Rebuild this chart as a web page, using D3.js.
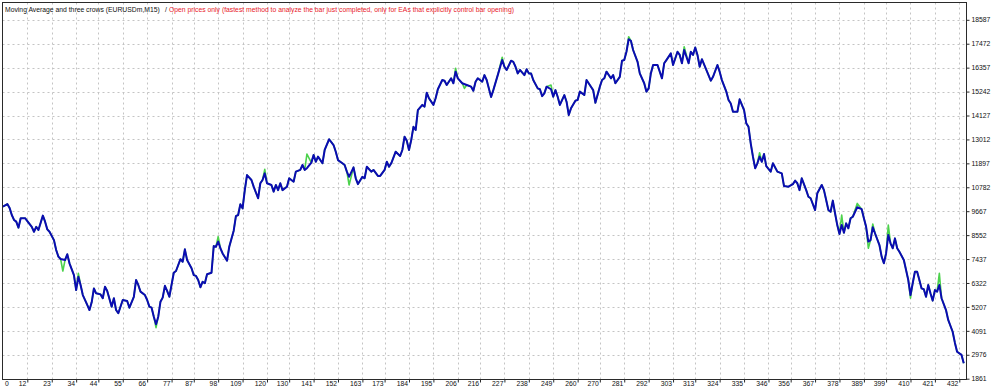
<!DOCTYPE html>
<html>
<head>
<meta charset="utf-8">
<script src="https://cdn.jsdelivr.net/npm/d3@7"></script>
<style>
  html, body { margin: 0; padding: 0; background: #ffffff; }
  svg { display: block; }
  text { font-family: "Liberation Sans", Arial, sans-serif; }
</style>
</head>
<body>
<svg id="chart" width="1000" height="392"></svg>
<script>
// ---- data ----
const titleMain = "Moving Average and three crows (EURUSDm,M15)";
const titleSep = "/";
const titleMode = "Open prices only (fastest method to analyze the bar just completed, only for EAs that explicitly control bar opening)";

const yTicks = [1861, 2976, 4091, 5207, 6322, 7437, 8552, 9667, 10782, 11897, 13012, 14127, 15242, 16357, 17472, 18587];
const xTicks = [0, 12, 23, 34, 44, 55, 66, 77, 87, 98, 109, 120, 130, 141, 152, 163, 173, 184, 195, 206, 216, 227, 238, 249, 260, 270, 281, 292, 303, 313, 324, 335, 346, 356, 367, 378, 389, 399, 410, 421, 432];

const balanceBars = [
  1, 3, 4, 5, 6, 7, 8, 9, 11, 12, 14, 15, 16, 17, 19, 20, 21, 22, 24, 25, 26, 27, 29, 30, 31, 33, 34, 35, 36, 37, 39, 40, 41, 42, 43, 45, 46, 47, 48, 50, 51, 52, 53, 55, 57, 58, 60, 61, 62, 63, 65, 66, 67, 68, 69, 70, 71, 72, 73, 74, 75, 76,
  78, 79, 81, 82, 83, 84, 86, 87, 88, 89, 90, 91, 92, 93, 95, 96, 97, 98, 99, 100, 102, 103, 105, 106, 107, 108, 109, 110, 111, 113, 114, 116, 117, 118, 119, 120, 122, 123, 124, 125, 126, 127, 129, 130, 132, 133, 135, 136, 137, 138, 140, 141, 142, 143, 145,
  146, 148, 150, 151, 152, 154, 155, 156, 157, 159, 160, 161, 163, 164, 165, 167, 168, 170, 171, 173, 174, 175, 176, 178, 180, 181, 182, 183, 184, 185, 186, 187, 188, 190, 191, 192, 193, 195, 196, 197, 199, 200, 201, 203, 204, 205, 206, 208, 210, 212, 213, 214, 215, 217, 218, 219, 220, 221, 222,
  224, 226, 227, 228, 230, 231, 232, 233, 234, 236, 237, 238, 239, 240, 242, 243, 244, 245, 246, 248, 249, 250, 251, 252, 254, 255, 256, 257, 259, 260, 261, 263, 264, 266, 267, 268, 270, 271, 272, 273, 275, 276, 277, 279, 280, 281, 282, 283, 284, 285, 287, 288, 290, 291, 292, 293, 294, 296,
  298, 299, 300, 302, 303, 305, 306, 307, 308, 310, 311, 312, 313, 314, 315, 316, 318, 320, 321, 323, 324, 325, 327, 328, 329, 330, 332, 333, 335, 336, 337, 338, 339, 340, 341, 342, 343, 344, 345, 347, 348, 350, 352, 353, 355, 357, 358, 359, 360, 361, 363, 364,
  365, 367, 368, 370, 371, 372, 373, 374, 375, 376, 377, 378, 379, 380, 381, 382, 383, 384, 386, 388, 389, 390, 391, 392, 393, 394, 396, 397, 398, 399, 400, 401, 402, 403, 404, 405, 407, 408, 409, 410, 411, 412, 413, 414, 415, 416, 417, 418, 419, 420, 421, 422, 423, 424, 426, 427, 429, 430, 431, 433, 434
];
const balanceValues = [
  9880, 10000, 9820, 9490, 9260, 9180, 8900, 9340, 9340, 9210, 8940, 8710, 8940, 8790, 9460, 9180, 8820, 8710, 8320, 7860, 7550, 7440, 7390, 7660, 7240, 6690, 5990, 6610, 6230, 5760, 5300, 5060, 5420, 6070, 5840, 5790, 5610, 6150, 5950, 5220, 5610, 5060, 4910, 5530, 5480, 5170, 5680, 6460, 6230, 5920, 5760, 5530, 5220, 5170, 4750, 4400, 4750, 5450, 5640, 6190, 5950, 5680,
  6800, 6880, 7430, 7310, 7890, 7390, 7010, 6690, 6650, 6460, 6120, 6380, 6310, 6730, 6800, 8040, 8010, 8250, 7940, 7700, 7360, 8010, 8760, 9440, 9490, 9990, 9800, 10650, 11350, 11120, 10810, 10270, 10970, 11120, 11430, 10970, 10890, 10580, 10890, 10650, 10970, 10650, 10810, 11200, 11040, 11510, 11590, 11820, 11590, 11670, 11930, 12290, 11970, 12210, 11900,
  12520, 13020, 12750, 12440, 12050, 11900, 11820, 11510, 11270, 11710, 11200, 10930, 11270, 11200, 11740, 11510, 11590, 11310, 11310, 11590, 11970, 11740, 11900, 12440, 12240, 12520, 13140, 12950, 12520, 12980, 13600, 13450, 14380, 14620, 14540, 15190, 14930, 14620, 14930, 15350, 15780, 15750, 15550, 15860, 15630, 16170, 15860, 15630, 15550, 15470, 15280, 15700, 15860, 15700, 16010, 15780, 15390, 14990, 15310,
  16010, 16710, 16400, 16250, 16680, 16630, 16400, 16090, 16250, 16010, 16280, 16090, 16090, 15780, 15390, 15350, 15030, 15160, 15470, 15350, 15000, 15310, 15000, 14620, 15080, 14770, 14150, 14460, 14820, 14850, 15240, 15080, 15780, 15470, 15310, 14720, 15470, 15780, 15860, 16170, 15860, 16010, 15630, 15930, 16680, 16710, 17100, 17680, 17610, 17180, 16630, 16090, 15630, 15240, 15390, 16090, 16480, 16480,
  15860, 16560, 16710, 17020, 16480, 17100, 16950, 16560, 17180, 16560, 17100, 16950, 17300, 16950, 16400, 16750, 16250, 15750, 15930, 16480, 16170, 15780, 15240, 14850, 14690, 14300, 14300, 14880, 14380, 13760, 13600, 12830, 12210, 11670, 11900, 12210, 11970, 12330, 11770, 11510, 11900, 11510, 11430, 10840, 10810, 10930, 11090, 10970, 10650, 11200, 10650, 10340,
  10270, 9720, 10500, 10890, 10650, 10190, 9720, 9640, 10160, 9570, 9020, 8600, 9020, 8660, 9100, 8870, 9340, 9410, 9850, 9760, 9340, 8940, 8250, 8320, 8920, 8640, 8090, 7550, 7240, 7700, 8560, 8170, 7940, 8400, 7940, 7780, 7390, 6930, 6460, 5760, 6310, 6850, 6850, 6460, 6070, 6030, 5680, 6230, 5840, 5500, 5990, 5920, 6230, 5610, 5060, 4600, 4050, 3540, 3120, 2970, 2580
];

// equity differs from balance only at these trades
const equityBars   = [28, 35, 70, 98, 119, 138, 157, 205, 209, 226, 248, 283, 308, 342, 379, 386, 391, 393, 400, 410, 423];
const equityValues = [6880, 6770, 4240, 8480, 11620, 12330, 10890, 16330, 15390, 16840, 15550, 17800, 17330, 12390, 9490, 10030, 7940, 9070, 9020, 5610, 6770];

// ---- layout ----
const frame = { left: 2.5, top: 2.5, right: 966.5, bottom: 379.5 };
const svg = d3.select("#chart");

const x = d3.scaleLinear().domain([0, 434]).range([0.7, 0.7 + 2.219 * 434]);
const y = d3.scaleLinear().domain([1861, 18587]).range([378.7, 19.8]);

const balance = balanceBars.map((b, i) => ({ b, v: balanceValues[i] }));
const eqMap = new Map(balance.map(d => [d.b, d.v]));
equityBars.forEach((b, i) => eqMap.set(b, equityValues[i]));
const equity = Array.from(eqMap, ([b, v]) => ({ b, v })).sort((a, b) => a.b - b.b);

// grid
const grid = svg.append("g").attr("stroke", "#c4c4c4").attr("stroke-width", 1).attr("stroke-dasharray", "2,3");
grid.selectAll("line.h").data(yTicks.slice(1)).join("line")
  .attr("x1", frame.left).attr("x2", frame.right)
  .attr("y1", d => Math.round(y(d)) + 0.5).attr("y2", d => Math.round(y(d)) + 0.5);
grid.selectAll("line.v").data(xTicks.slice(1)).join("line")
  .attr("y1", frame.top).attr("y2", frame.bottom)
  .attr("x1", d => Math.round(x(d)) + 0.5).attr("x2", d => Math.round(x(d)) + 0.5);

// lines
const line = d3.line().x(d => x(d.b)).y(d => y(d.v));
svg.append("path").datum(equity).attr("d", line)
  .attr("fill", "none").attr("stroke", "#4cd24c").attr("stroke-width", 1.6).attr("stroke-linejoin", "round");
svg.append("path").datum(balance).attr("d", line)
  .attr("fill", "none").attr("stroke", "#0b0bb2").attr("stroke-width", 2).attr("stroke-linejoin", "round");

// frame
svg.append("rect")
  .attr("x", frame.left).attr("y", frame.top)
  .attr("width", frame.right - frame.left).attr("height", frame.bottom - frame.top)
  .attr("fill", "none").attr("stroke", "#2a2a2a").attr("stroke-width", 1);

// right axis
const yAxis = d3.axisRight(y).tickValues(yTicks).tickSize(3).tickPadding(2).tickFormat(d => String(d));
const gy = svg.append("g").attr("transform", `translate(${frame.right},0)`).call(yAxis);
gy.select(".domain").remove();
gy.selectAll(".tick line").attr("stroke", "#2a2a2a");
gy.selectAll(".tick text").attr("font-size", "6.8px").attr("fill", "#111").attr("font-family", "Liberation Sans, Arial, sans-serif");

// bottom axis
const xAxis = d3.axisBottom(x).tickValues(xTicks).tickSize(3).tickFormat(d => String(d));
const gx = svg.append("g").attr("transform", `translate(0,${frame.bottom})`).call(xAxis);
gx.select(".domain").remove();
gx.selectAll(".tick line").attr("stroke", "#2a2a2a");
gx.selectAll(".tick text")
  .attr("font-size", "6.8px").attr("fill", "#111").attr("font-family", "Liberation Sans, Arial, sans-serif")
  .attr("text-anchor", d => d === 0 ? "start" : "end")
  .attr("x", d => d === 0 ? frame.left + 2 - x(0) : -1.5)
  .attr("y", 2).attr("dy", "0.71em");
gx.selectAll(".tick").filter(d => d === 0).select("line").remove();

// title
const t = svg.append("g").attr("font-size", "6.8px");
t.append("text").attr("x", 5).attr("y", 12).attr("fill", "#111").text(titleMain);
t.append("text").attr("x", 165).attr("y", 12).attr("fill", "#111").text(titleSep);
t.append("text").attr("x", 169).attr("y", 12).attr("fill", "#e8202a").text(titleMode);
</script>
</body>
</html>
